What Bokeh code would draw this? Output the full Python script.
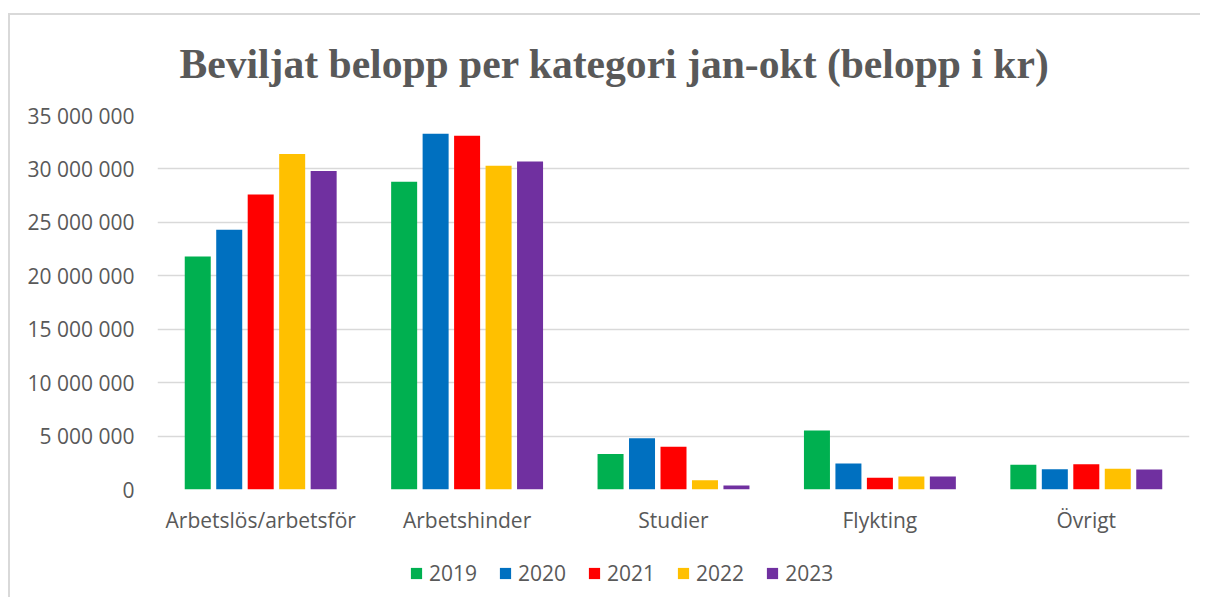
from bokeh.plotting import figure
from bokeh.models import (ColumnDataSource, FactorRange, FixedTicker, Legend, LegendItem, Title)
from bokeh.layouts import column
from bokeh.transform import dodge
from bokeh.embed import file_html
from bokeh.resources import INLINE

categories = ["Arbetslös/arbetsför", "Arbetshinder", "Studier", "Flykting", "Övrigt"]
years = ["2019", "2020", "2021", "2022", "2023"]
v2019 = [21_800_000, 28_800_000, 3_330_000, 5_520_000, 2_310_000]
v2020 = [24_300_000, 33_300_000, 4_800_000, 2_430_000, 1_900_000]
v2021 = [27_600_000, 33_100_000, 4_000_000, 1_090_000, 2_370_000]
v2022 = [31_400_000, 30_300_000, 870_000, 1_220_000, 1_940_000]
v2023 = [29_800_000, 30_700_000, 370_000, 1_220_000, 1_870_000]
colors = ["#00B050", "#0070C0", "#FF0000", "#FFC000", "#7030A0"]
y_ticks = [0, 5_000_000, 10_000_000, 15_000_000, 20_000_000, 25_000_000, 30_000_000, 35_000_000]
y_tick_labels = ["0", "5 000 000", "10 000 000", "15 000 000", "20 000 000",
                 "25 000 000", "30 000 000", "35 000 000"]
title_text = "Beviljat belopp per kategori jan-okt (belopp i kr)"

TXT = "#595959"
FONT = "Open Sans"
GRID = "#d9d9d9"

source = ColumnDataSource(data=dict(cat=categories, y2019=v2019, y2020=v2020,
                                    y2021=v2021, y2022=v2022, y2023=v2023))

bg = ("linear-gradient(#d9d9d9,#d9d9d9) 8px 13px / 100% 2px no-repeat, "
      "linear-gradient(#d9d9d9,#d9d9d9) 8px 13px / 2px 100% no-repeat, white")

p = figure(width=1200, height=545, x_range=FactorRange(factors=categories),
           y_range=(0, 35_000_000), output_backend="svg", toolbar_location=None,
           min_border_left=157, min_border_right=11, min_border_top=115,
           min_border_bottom=56)
p.outline_line_color = None
p.background_fill_color = "white"
p.border_fill_alpha = 0

offsets = [-0.305, -0.1525, 0.0, 0.1525, 0.305]
for yr, off, col in zip(years, offsets, colors):
    p.vbar(x=dodge("cat", off, range=p.x_range), top="y" + yr, width=0.126,
           source=source, fill_color=col, line_color=None)

p.yaxis.ticker = FixedTicker(ticks=y_ticks)
p.yaxis.major_label_overrides = {t: l for t, l in zip(y_ticks, y_tick_labels)}
for ax in (p.xaxis, p.yaxis):
    ax.axis_line_color = None
    ax.major_tick_line_color = None
    ax.minor_tick_line_color = None
    ax.major_label_text_font = FONT
    ax.major_label_text_font_size = "21px"
    ax.major_label_text_color = TXT
p.yaxis.major_label_standoff = 17
p.xaxis.major_label_standoff = 10
p.xgrid.grid_line_color = None
p.ygrid.grid_line_color = GRID
p.ygrid.grid_line_width = 1.5

p.title = Title(text=title_text, align="left", offset=22, standoff=58,
                text_font="Liberation Serif", text_font_style="bold",
                text_font_size="41.6px", text_color=TXT)

# legend strip below the chart (frame aligned with the chart's frame)
leg = figure(width=1200, height=52, x_range=(0, 1), y_range=(0, 1), output_backend="svg",
             toolbar_location=None, min_border_left=157, min_border_right=11,
             min_border_top=0, min_border_bottom=0)
leg.axis.visible = False
leg.grid.visible = False
leg.outline_line_color = None
leg.background_fill_alpha = 0
leg.border_fill_alpha = 0
dummy = ColumnDataSource(data=dict(x=[-10.0], top=[-10.0]))
leg_renderers = [leg.vbar(x="x", top="top", bottom=-11.0, width=0.1, source=dummy,
                          fill_color=c, line_color=None) for c in colors]
legend = Legend(items=[LegendItem(label=yr, renderers=[r]) for yr, r in zip(years, leg_renderers)],
                location=(252, 10), orientation="horizontal", glyph_width=14, glyph_height=14,
                label_standoff=6, spacing=21, padding=0, margin=0, border_line_color=None,
                background_fill_alpha=0, label_text_font=FONT, label_text_font_size="21px",
                label_text_color=TXT)
leg.add_layout(legend, "center")

layout = column(p, leg, spacing=0, styles={"background": bg})

open("out.html", "w").write(file_html(layout, INLINE))
